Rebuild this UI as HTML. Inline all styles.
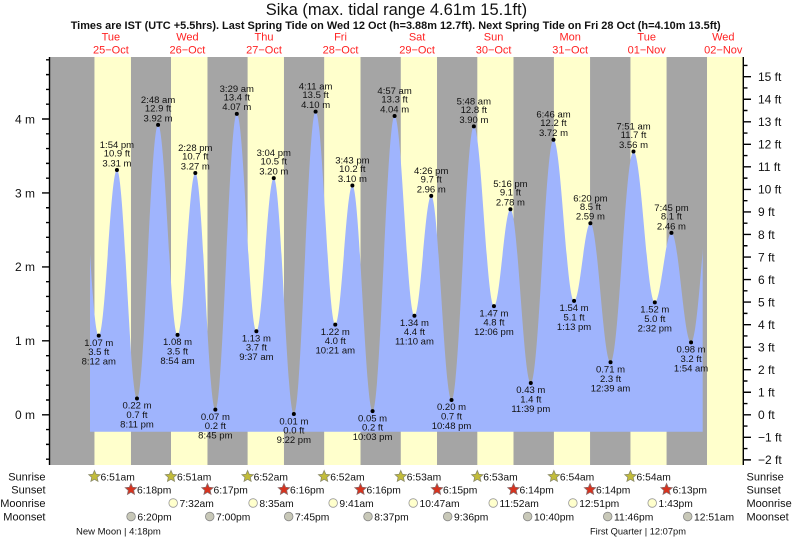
<!DOCTYPE html>
<html><head><meta charset="utf-8"><style>
html,body{margin:0;padding:0;background:#fff;}
svg{display:block;}
text{font-family:"Liberation Sans",Arial,sans-serif;}
</style></head><body>
<svg width="793" height="539" viewBox="0 0 793 539" xmlns="http://www.w3.org/2000/svg">
<rect x="0" y="0" width="793" height="539" fill="#fff"/>
<!-- plot background -->
<rect x="50" y="57" width="693.3" height="408" fill="#a5a5a5"/>
<g fill="#ffffcc">
<rect x="94.45" y="57" width="36.52" height="408"/>
<rect x="171.0" y="57" width="36.47" height="408"/>
<rect x="247.6" y="57" width="36.37" height="408"/>
<rect x="324.16" y="57" width="36.36" height="408"/>
<rect x="400.76" y="57" width="36.25" height="408"/>
<rect x="477.31" y="57" width="36.2" height="408"/>
<rect x="553.91" y="57" width="36.15" height="408"/>
<rect x="630.46" y="57" width="36.1" height="408"/>
<rect x="707.01" y="57" width="36.3" height="408"/>
</g>
<defs><clipPath id="cl"><rect x="90" y="50" width="612.7" height="420"/></clipPath></defs>
<path clip-path="url(#cl)" fill="#9fb4fd" d="M79.24,141.2
C86.33,141.2 91.67,335.67 98.76,335.67
C105.37,335.67 110.33,170.03 116.94,170.03
C124.22,170.03 129.70,398.53 136.98,398.53
C144.65,398.53 150.41,124.92 158.08,124.92
C165.15,124.92 170.47,334.93 177.54,334.93
C183.99,334.93 188.85,172.98 195.30,172.98
C202.58,172.98 208.06,409.62 215.34,409.62
C223.14,409.62 229.01,113.82 236.81,113.82
C243.92,113.82 249.27,331.24 256.38,331.24
C262.70,331.24 267.44,178.16 273.76,178.16
C281.06,178.16 286.55,414.06 293.85,414.06
C301.75,414.06 307.69,111.60 315.59,111.60
C322.74,111.60 328.11,324.58 335.26,324.58
C341.48,324.58 346.16,185.55 352.38,185.55
C359.72,185.55 365.24,411.10 372.58,411.10
C380.58,411.10 386.59,116.04 394.59,116.04
C401.80,116.04 407.21,315.71 414.42,315.71
C420.53,315.71 425.11,195.91 431.22,195.91
C438.60,195.91 444.14,400.01 451.52,400.01
C459.63,400.01 465.74,126.39 473.85,126.39
C481.15,126.39 486.65,306.09 493.95,306.09
C499.94,306.09 504.44,209.22 510.43,209.22
C517.83,209.22 523.39,383.00 530.79,383.00
C539.04,383.00 545.24,139.71 553.49,139.71
C560.97,139.71 566.58,300.92 574.06,300.92
C579.99,300.92 584.45,223.27 590.38,223.27
C597.70,223.27 603.21,362.30 610.53,362.30
C618.87,362.30 625.15,151.54 633.49,151.54
C641.24,151.54 647.06,302.40 654.81,302.40
C660.86,302.40 665.40,232.88 671.45,232.88
C678.58,232.88 683.93,342.33 691.06,342.33
C699.29,342.33 705.48,167.07 713.71,167.07
L713.71,431.7 L79.24,431.7 Z"/>

<!-- axes -->
<g stroke="#000" stroke-width="1.4" fill="none">
<path d="M49.5,57V465 M743.3,57V465"/>
<path d="M42,414.8H50 M42,340.85H50 M42,266.9H50 M42,192.95H50 M42,119H50"/>
<path d="M46,459.17H50 M46,444.38H50 M46,429.59H50 M46,400.01H50 M46,385.22H50 M46,370.43H50 M46,355.64H50 M46,326.06H50 M46,311.27H50 M46,296.48H50 M46,281.69H50 M46,252.11H50 M46,237.32H50 M46,222.53H50 M46,207.74H50 M46,178.16H50 M46,163.37H50 M46,148.58H50 M46,133.79H50 M46,104.21H50 M46,89.42H50 M46,74.63H50 M46,59.84H50"/>
<path d="M743,459.88H751 M743,437.34H751 M743,414.8H751 M743,392.26H751 M743,369.72H751 M743,347.18H751 M743,324.64H751 M743,302.1H751 M743,279.56H751 M743,257.02H751 M743,234.48H751 M743,211.94H751 M743,189.4H751 M743,166.86H751 M743,144.32H751 M743,121.78H751 M743,99.24H751 M743,76.7H751"/>
<path d="M743,448.61H747.5 M743,426.07H747.5 M743,403.53H747.5 M743,380.99H747.5 M743,358.45H747.5 M743,335.91H747.5 M743,313.37H747.5 M743,290.83H747.5 M743,268.29H747.5 M743,245.75H747.5 M743,223.21H747.5 M743,200.67H747.5 M743,178.13H747.5 M743,155.59H747.5 M743,133.05H747.5 M743,110.51H747.5 M743,87.97H747.5 M743,65.43H747.5"/>
</g>

<!-- left axis labels -->
<g font-size="12" fill="#111" text-anchor="end">
<text x="35" y="419.1">0 m</text>
<text x="35" y="345.15">1 m</text>
<text x="35" y="271.2">2 m</text>
<text x="35" y="197.25">3 m</text>
<text x="35" y="123.3">4 m</text>
</g>
<!-- right axis labels -->
<g font-size="12" fill="#111">
<text x="758" y="464.2">−2 ft</text>
<text x="758" y="441.6">−1 ft</text>
<text x="758" y="419.1">0 ft</text>
<text x="758" y="396.6">1 ft</text>
<text x="758" y="374">2 ft</text>
<text x="758" y="351.5">3 ft</text>
<text x="758" y="328.9">4 ft</text>
<text x="758" y="306.4">5 ft</text>
<text x="758" y="283.9">6 ft</text>
<text x="758" y="261.3">7 ft</text>
<text x="758" y="238.8">8 ft</text>
<text x="758" y="216.2">9 ft</text>
<text x="758" y="193.7">10 ft</text>
<text x="758" y="171.2">11 ft</text>
<text x="758" y="148.6">12 ft</text>
<text x="758" y="126.1">13 ft</text>
<text x="758" y="103.5">14 ft</text>
<text x="758" y="81">15 ft</text>
</g>

<!-- header -->
<text x="396.4" y="15" font-size="16.5" fill="#111" text-anchor="middle">Sika (max. tidal range 4.61m 15.1ft)</text>
<text x="70.7" y="29" font-size="11" font-weight="bold" fill="#111" textLength="650" lengthAdjust="spacingAndGlyphs">Times are IST (UTC +5.5hrs). Last Spring Tide on Wed 12 Oct (h=3.88m 12.7ft). Next Spring Tide on Fri 28 Oct (h=4.10m 13.5ft)</text>
<g font-size="11" fill="#f22" text-anchor="middle">
<text x="110.9" y="40.7">Tue</text><text x="110.9" y="53.3">25−Oct</text>
<text x="187.4" y="40.7">Wed</text><text x="187.4" y="53.3">26−Oct</text>
<text x="264.0" y="40.7">Thu</text><text x="264.0" y="53.3">27−Oct</text>
<text x="340.5" y="40.7">Fri</text><text x="340.5" y="53.3">28−Oct</text>
<text x="417.1" y="40.7">Sat</text><text x="417.1" y="53.3">29−Oct</text>
<text x="493.6" y="40.7">Sun</text><text x="493.6" y="53.3">30−Oct</text>
<text x="570.2" y="40.7">Mon</text><text x="570.2" y="53.3">31−Oct</text>
<text x="646.7" y="40.7">Tue</text><text x="646.7" y="53.3">01−Nov</text>
<text x="723.3" y="40.7">Wed</text><text x="723.3" y="53.3">02−Nov</text>
</g>

<!-- tide dots -->
<g fill="#000">
<circle cx="98.76" cy="335.67" r="2"/><circle cx="116.94" cy="170.03" r="2"/><circle cx="136.98" cy="398.53" r="2"/>
<circle cx="158.08" cy="124.92" r="2"/><circle cx="177.54" cy="334.93" r="2"/><circle cx="195.30" cy="172.98" r="2"/><circle cx="215.34" cy="409.62" r="2"/>
<circle cx="236.81" cy="113.82" r="2"/><circle cx="256.38" cy="331.24" r="2"/><circle cx="273.76" cy="178.16" r="2"/><circle cx="293.85" cy="414.06" r="2"/>
<circle cx="315.59" cy="111.60" r="2"/><circle cx="335.26" cy="324.58" r="2"/><circle cx="352.38" cy="185.55" r="2"/><circle cx="372.58" cy="411.10" r="2"/>
<circle cx="394.59" cy="116.04" r="2"/><circle cx="414.42" cy="315.71" r="2"/><circle cx="431.22" cy="195.91" r="2"/><circle cx="451.52" cy="400.01" r="2"/>
<circle cx="473.85" cy="126.39" r="2"/><circle cx="493.95" cy="306.09" r="2"/><circle cx="510.43" cy="209.22" r="2"/><circle cx="530.79" cy="383.00" r="2"/>
<circle cx="553.49" cy="139.71" r="2"/><circle cx="574.06" cy="300.92" r="2"/><circle cx="590.38" cy="223.27" r="2"/><circle cx="610.53" cy="362.30" r="2"/>
<circle cx="633.49" cy="151.54" r="2"/><circle cx="654.81" cy="302.40" r="2"/><circle cx="671.45" cy="232.88" r="2"/><circle cx="691.06" cy="342.33" r="2"/>
</g>

<!-- tide labels -->
<g font-size="9.5" fill="#111" text-anchor="middle">
<text x="98.76" y="345.87">1.07 m</text><text x="98.76" y="355.17">3.5 ft</text><text x="98.76" y="364.67">8:12 am</text>
<text x="116.94" y="148.03">1:54 pm</text><text x="116.94" y="156.53">10.9 ft</text><text x="116.94" y="166.43">3.31 m</text>
<text x="136.98" y="408.73">0.22 m</text><text x="136.98" y="418.03">0.7 ft</text><text x="136.98" y="427.53">8:11 pm</text>
<text x="158.08" y="102.92">2:48 am</text><text x="158.08" y="111.42">12.9 ft</text><text x="158.08" y="121.32">3.92 m</text>
<text x="177.54" y="345.13">1.08 m</text><text x="177.54" y="354.43">3.5 ft</text><text x="177.54" y="363.93">8:54 am</text>
<text x="195.30" y="150.98">2:28 pm</text><text x="195.30" y="159.48">10.7 ft</text><text x="195.30" y="169.38">3.27 m</text>
<text x="215.34" y="419.82">0.07 m</text><text x="215.34" y="429.12">0.2 ft</text><text x="215.34" y="438.62">8:45 pm</text>
<text x="236.81" y="91.82">3:29 am</text><text x="236.81" y="100.32">13.4 ft</text><text x="236.81" y="110.22">4.07 m</text>
<text x="256.38" y="341.44">1.13 m</text><text x="256.38" y="350.74">3.7 ft</text><text x="256.38" y="360.24">9:37 am</text>
<text x="273.76" y="156.16">3:04 pm</text><text x="273.76" y="164.66">10.5 ft</text><text x="273.76" y="174.56">3.20 m</text>
<text x="293.85" y="424.26">0.01 m</text><text x="293.85" y="433.56">0.0 ft</text><text x="293.85" y="443.06">9:22 pm</text>
<text x="315.59" y="89.6">4:11 am</text><text x="315.59" y="98.1">13.5 ft</text><text x="315.59" y="108.0">4.10 m</text>
<text x="335.26" y="334.78">1.22 m</text><text x="335.26" y="344.08">4.0 ft</text><text x="335.26" y="353.58">10:21 am</text>
<text x="352.38" y="163.55">3:43 pm</text><text x="352.38" y="172.05">10.2 ft</text><text x="352.38" y="181.95">3.10 m</text>
<text x="372.58" y="421.3">0.05 m</text><text x="372.58" y="430.6">0.2 ft</text><text x="372.58" y="440.1">10:03 pm</text>
<text x="394.59" y="94.04">4:57 am</text><text x="394.59" y="102.54">13.3 ft</text><text x="394.59" y="112.44">4.04 m</text>
<text x="414.42" y="325.91">1.34 m</text><text x="414.42" y="335.21">4.4 ft</text><text x="414.42" y="344.71">11:10 am</text>
<text x="431.22" y="173.91">4:26 pm</text><text x="431.22" y="182.41">9.7 ft</text><text x="431.22" y="192.31">2.96 m</text>
<text x="451.52" y="410.21">0.20 m</text><text x="451.52" y="419.51">0.7 ft</text><text x="451.52" y="429.01">10:48 pm</text>
<text x="473.85" y="104.39">5:48 am</text><text x="473.85" y="112.89">12.8 ft</text><text x="473.85" y="122.79">3.90 m</text>
<text x="493.95" y="316.29">1.47 m</text><text x="493.95" y="325.59">4.8 ft</text><text x="493.95" y="335.09">12:06 pm</text>
<text x="510.43" y="187.22">5:16 pm</text><text x="510.43" y="195.72">9.1 ft</text><text x="510.43" y="205.62">2.78 m</text>
<text x="530.79" y="393.2">0.43 m</text><text x="530.79" y="402.5">1.4 ft</text><text x="530.79" y="412.0">11:39 pm</text>
<text x="553.49" y="117.71">6:46 am</text><text x="553.49" y="126.21">12.2 ft</text><text x="553.49" y="136.11">3.72 m</text>
<text x="574.06" y="311.12">1.54 m</text><text x="574.06" y="320.42">5.1 ft</text><text x="574.06" y="329.92">1:13 pm</text>
<text x="590.38" y="201.27">6:20 pm</text><text x="590.38" y="209.77">8.5 ft</text><text x="590.38" y="219.67">2.59 m</text>
<text x="610.53" y="372.5">0.71 m</text><text x="610.53" y="381.8">2.3 ft</text><text x="610.53" y="391.3">12:39 am</text>
<text x="633.49" y="129.54">7:51 am</text><text x="633.49" y="138.04">11.7 ft</text><text x="633.49" y="147.94">3.56 m</text>
<text x="654.81" y="312.6">1.52 m</text><text x="654.81" y="321.9">5.0 ft</text><text x="654.81" y="331.4">2:32 pm</text>
<text x="671.45" y="210.88">7:45 pm</text><text x="671.45" y="219.38">8.1 ft</text><text x="671.45" y="229.28">2.46 m</text>
<text x="691.06" y="352.53">0.98 m</text><text x="691.06" y="361.83">3.2 ft</text><text x="691.06" y="371.33">1:54 am</text>
</g>

<!-- bottom row labels -->
<g font-size="11" fill="#111">
<g text-anchor="end">
<text x="45.5" y="480.5">Sunrise</text>
<text x="45.5" y="493.5">Sunset</text>
<text x="45.5" y="507">Moonrise</text>
<text x="45.5" y="520.5">Moonset</text>
</g>
<text x="746.5" y="480.5">Sunrise</text>
<text x="746.5" y="493.5">Sunset</text>
<text x="746.5" y="507">Moonrise</text>
<text x="746.5" y="520.5">Moonset</text>
</g>

<defs>
<polygon id="star" points="0,-6 1.65,-2.27 5.71,-1.85 2.66,0.87 3.53,4.85 0,2.8 -3.53,4.85 -2.66,0.87 -5.71,-1.85 -1.65,-2.27"/>
</defs>
<!-- sunrise -->
<g fill="#c2bc3a" stroke="#8a8a6a" stroke-width="0.8">
<use href="#star" x="94.45" y="476.5"/><use href="#star" x="171.0" y="476.5"/><use href="#star" x="247.6" y="476.5"/><use href="#star" x="324.16" y="476.5"/>
<use href="#star" x="400.76" y="476.5"/><use href="#star" x="477.31" y="476.5"/><use href="#star" x="553.91" y="476.5"/><use href="#star" x="630.46" y="476.5"/>
</g>
<g fill="#d8321e" stroke="#8a6a6a" stroke-width="0.8">
<use href="#star" x="130.97" y="489.5"/><use href="#star" x="207.47" y="489.5"/><use href="#star" x="283.97" y="489.5"/><use href="#star" x="360.52" y="489.5"/>
<use href="#star" x="437.01" y="489.5"/><use href="#star" x="513.51" y="489.5"/><use href="#star" x="590.06" y="489.5"/><use href="#star" x="666.56" y="489.5"/>
</g>
<g fill="#ffffcc" stroke="#999" stroke-width="0.8">
<circle cx="173.18" cy="503" r="4.3"/><circle cx="253.08" cy="503" r="4.3"/><circle cx="333.14" cy="503" r="4.3"/><circle cx="413.19" cy="503" r="4.3"/>
<circle cx="493.2" cy="503" r="4.3"/><circle cx="572.87" cy="503" r="4.3"/><circle cx="652.2" cy="503" r="4.3"/>
</g>
<g fill="#c8c8b8" stroke="#888" stroke-width="0.8">
<circle cx="131.08" cy="516.5" r="4.3"/><circle cx="209.75" cy="516.5" r="4.3"/><circle cx="288.69" cy="516.5" r="4.3"/><circle cx="368.0" cy="516.5" r="4.3"/>
<circle cx="447.69" cy="516.5" r="4.3"/><circle cx="527.64" cy="516.5" r="4.3"/><circle cx="607.7" cy="516.5" r="4.3"/><circle cx="687.71" cy="516.5" r="4.3"/>
</g>
<g font-size="10.3" fill="#111">
<text x="100.5" y="480.3">6:51am</text><text x="177" y="480.3">6:51am</text><text x="253.6" y="480.3">6:52am</text><text x="330.2" y="480.3">6:52am</text>
<text x="406.8" y="480.3">6:53am</text><text x="483.3" y="480.3">6:53am</text><text x="559.9" y="480.3">6:54am</text><text x="636.5" y="480.3">6:54am</text>
<text x="137" y="493.3">6:18pm</text><text x="213.5" y="493.3">6:17pm</text><text x="290" y="493.3">6:16pm</text><text x="366.5" y="493.3">6:16pm</text>
<text x="443" y="493.3">6:15pm</text><text x="519.5" y="493.3">6:14pm</text><text x="596" y="493.3">6:14pm</text><text x="672.6" y="493.3">6:13pm</text>
<text x="179.5" y="506.8">7:32am</text><text x="259.4" y="506.8">8:35am</text><text x="339.4" y="506.8">9:41am</text><text x="419.5" y="506.8">10:47am</text>
<text x="499.5" y="506.8">11:52am</text><text x="579.2" y="506.8">12:51pm</text><text x="658.5" y="506.8">1:43pm</text>
<text x="137.4" y="520.3">6:20pm</text><text x="216" y="520.3">7:00pm</text><text x="295" y="520.3">7:45pm</text><text x="374.3" y="520.3">8:37pm</text>
<text x="454" y="520.3">9:36pm</text><text x="534" y="520.3">10:40pm</text><text x="614" y="520.3">11:46pm</text><text x="694" y="520.3">12:51am</text>
</g>
<g font-size="9.5" fill="#111">
<text x="76" y="534.5">New Moon | 4:18pm</text>
<text x="590" y="534.5" font-size="9.3">First Quarter | 12:07pm</text>
</g>
</svg>
</body></html>
